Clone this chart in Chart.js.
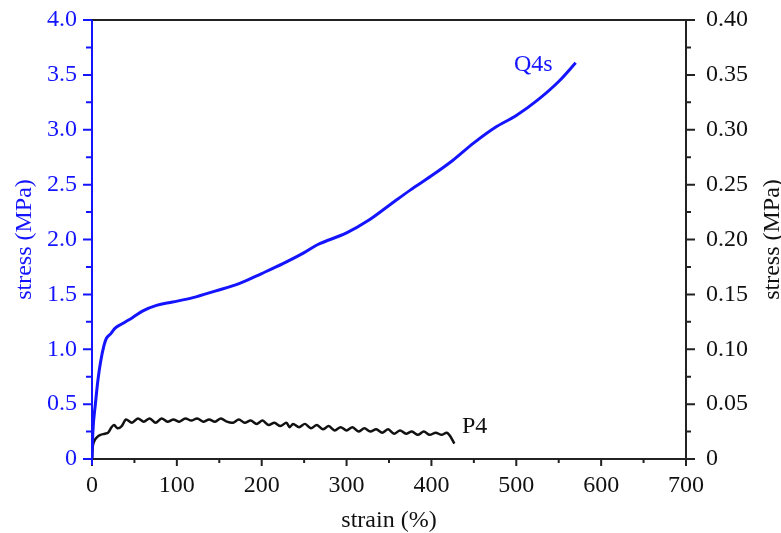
<!DOCTYPE html>
<html>
<head>
<meta charset="utf-8">
<script src="https://cdn.jsdelivr.net/npm/chart.js@4.4.1/dist/chart.umd.min.js"></script>
<style>
  body { margin: 0; background: #fff; }
  #wrap { width: 781px; height: 533px; position: relative; }
</style>
</head>
<body>
<div id="wrap"><canvas id="my-chart"></canvas></div>
<script>
// Q4s curve, left axis (MPa)
const q4sStrain = [0, 1, 4, 7, 10, 14, 17, 22, 27, 35, 48, 60, 76, 95, 119, 145, 174, 200, 225, 250, 265, 300, 325, 350, 375, 400, 425, 450, 475, 500, 525, 550, 570];
const q4sStress = [0, 0.24, 0.5, 0.72, 0.88, 1.03, 1.10, 1.14, 1.19, 1.23, 1.29, 1.35, 1.40, 1.43, 1.47, 1.53, 1.60, 1.69, 1.78, 1.88, 1.95, 2.06, 2.17, 2.31, 2.45, 2.58, 2.72, 2.88, 3.02, 3.13, 3.27, 3.44, 3.61];

// P4 curve, right axis (MPa)
const p4Strain = [0, 1, 3, 6, 10, 15, 19, 23, 26, 30, 35,
  40, 47, 54, 61, 68, 75, 82, 89, 96, 103, 110, 117, 124, 131, 138, 145, 152, 159, 166, 173, 180, 187, 194, 201, 208, 215,
  222, 229, 233, 237, 244, 251, 258, 265, 272, 279, 286, 293, 300, 307, 314, 321, 328, 335, 342, 349, 356, 363, 370, 377, 384, 391, 398, 405, 412, 418, 422, 427];
const p4Stress = [0, 0.012, 0.017, 0.020, 0.022, 0.023, 0.024, 0.029, 0.031, 0.028, 0.030,
  0.036, 0.033, 0.037, 0.034, 0.037, 0.033, 0.037, 0.034, 0.036, 0.034, 0.037, 0.035, 0.037, 0.034, 0.036, 0.034, 0.037, 0.034, 0.033, 0.036, 0.033, 0.035, 0.032, 0.035, 0.031, 0.033,
  0.030, 0.033, 0.029, 0.032, 0.029, 0.032, 0.028, 0.031, 0.027, 0.030, 0.026, 0.029, 0.026, 0.029, 0.025, 0.028, 0.025, 0.027, 0.024, 0.027, 0.023, 0.026, 0.023, 0.025, 0.022, 0.025, 0.022, 0.024, 0.022, 0.024, 0.021, 0.014];

const xTicks = [0, 100, 200, 300, 400, 500, 600, 700];
const leftTicks = [0, 0.5, 1.0, 1.5, 2.0, 2.5, 3.0, 3.5, 4.0];
const rightTicks = [0, 0.05, 0.10, 0.15, 0.20, 0.25, 0.30, 0.35, 0.40];

const BLUE = "#1414ff";
const FONT = "Liberation Serif";

function pairs(xs, ys) {
    return xs.map(function(v, i) { return { x: v, y: ys[i] }; });
}

function fixWidth(w) {
    return function(s) {
        s.width = w;
        s.paddingTop = 0;
        s.paddingBottom = 0;
    };
}

const decoPlugin = {
    id: "deco",
    afterDraw(chart) {
        const ctx = chart.ctx;
        const a = chart.chartArea;
        const sx = chart.scales.x, sl = chart.scales.y, sr = chart.scales.y2;
        ctx.save();
        ctx.lineWidth = 2;

        // top, bottom and right frame, black
        ctx.strokeStyle = "#222";
        ctx.beginPath();
        ctx.moveTo(a.left, a.top); ctx.lineTo(a.right, a.top);
        ctx.moveTo(a.left, a.bottom); ctx.lineTo(a.right, a.bottom);
        ctx.moveTo(a.right, a.top); ctx.lineTo(a.right, a.bottom);
        ctx.stroke();

        // bottom ticks
        ctx.beginPath();
        for (let i = 0; i <= 14; i++) {
            const px = sx.getPixelForValue(i * 50);
            ctx.moveTo(px, a.bottom);
            ctx.lineTo(px, a.bottom + (i % 2 === 0 ? 7 : 4));
        }
        // right ticks
        for (let i = 0; i <= 16; i++) {
            const py = sr.getPixelForValue(i * 0.025);
            ctx.moveTo(a.right, py);
            ctx.lineTo(a.right + (i % 2 === 0 ? 9 : 5), py);
        }
        ctx.stroke();

        // left axis, blue
        ctx.strokeStyle = BLUE;
        ctx.beginPath();
        ctx.moveTo(a.left, a.top); ctx.lineTo(a.left, a.bottom + 6);
        for (let i = 0; i <= 16; i++) {
            const py = sl.getPixelForValue(i * 0.25);
            ctx.moveTo(a.left, py);
            ctx.lineTo(a.left - (i % 2 === 0 ? 9 : 6), py);
        }
        ctx.stroke();

        // axis titles
        ctx.font = "24px '" + FONT + "'";
        ctx.textAlign = "center";
        ctx.textBaseline = "middle";
        const cy = (a.top + a.bottom) / 2;
        ctx.fillStyle = BLUE;
        ctx.save(); ctx.translate(25, cy); ctx.rotate(-Math.PI / 2);
        ctx.fillText("stress (MPa)", 0, 0); ctx.restore();
        ctx.fillStyle = "#111";
        ctx.save(); ctx.translate(773, cy); ctx.rotate(-Math.PI / 2);
        ctx.fillText("stress (MPa)", 0, 0); ctx.restore();
        ctx.fillText("strain (%)", (a.left + a.right) / 2, 521);

        // curve labels
        ctx.fillStyle = BLUE;
        ctx.fillText("Q4s", sx.getPixelForValue(520), sl.getPixelForValue(3.59));
        ctx.fillStyle = "#111";
        ctx.textAlign = "left";
        ctx.fillText("P4", sx.getPixelForValue(436), sr.getPixelForValue(0.029));
        ctx.restore();
    }
};

const ctx = document.getElementById("my-chart").getContext("2d");
new Chart(ctx, {
    type: "line",
    data: {
        datasets: [{
            label: "Q4s",
            data: pairs(q4sStrain, q4sStress),
            yAxisID: "y",
            borderColor: BLUE,
            borderWidth: 3,
            pointRadius: 0,
            tension: 0.3,
            cubicInterpolationMode: "monotone"
        }, {
            label: "P4",
            data: pairs(p4Strain, p4Stress),
            yAxisID: "y2",
            borderColor: "#111",
            borderWidth: 2.5,
            pointRadius: 0,
            tension: 0.3
        }]
    },
    options: {
        responsive: true,
        maintainAspectRatio: false,
        animation: false,
        layout: { padding: { top: 20, left: 0, right: 0, bottom: 0 } },
        plugins: { legend: { display: false }, tooltip: { enabled: false } },
        scales: {
            x: {
                type: "linear",
                min: 0, max: 700,
                grid: { display: false, drawTicks: false },
                border: { display: false },
                afterFit: function(s) { s.height = 74; },
                afterBuildTicks: function(s) { s.ticks = xTicks.map(function(v) { return { value: v }; }); },
                ticks: {
                    padding: 12,
                    color: "#111",
                    font: { family: FONT, size: 24 },
                    maxRotation: 0,
                    callback: function(v) { return String(v); }
                }
            },
            y: {
                type: "linear",
                position: "left",
                min: 0, max: 4,
                grid: { display: false, drawTicks: false },
                border: { display: false },
                afterFit: fixWidth(92),
                afterBuildTicks: function(s) { s.ticks = leftTicks.map(function(v) { return { value: v }; }); },
                ticks: {
                    padding: 15,
                    color: BLUE,
                    font: { family: FONT, size: 24 },
                    callback: function(v) { return v === 0 ? "0" : v.toFixed(1); }
                }
            },
            y2: {
                type: "linear",
                position: "right",
                min: 0, max: 0.4,
                grid: { display: false, drawTicks: false },
                border: { display: false },
                afterFit: fixWidth(95),
                afterBuildTicks: function(s) { s.ticks = rightTicks.map(function(v) { return { value: v }; }); },
                ticks: {
                    padding: 20,
                    color: "#111",
                    font: { family: FONT, size: 24 },
                    callback: function(v) { return v === 0 ? "0" : v.toFixed(2); }
                }
            }
        }
    },
    plugins: [decoPlugin]
});
</script>
</body>
</html>
